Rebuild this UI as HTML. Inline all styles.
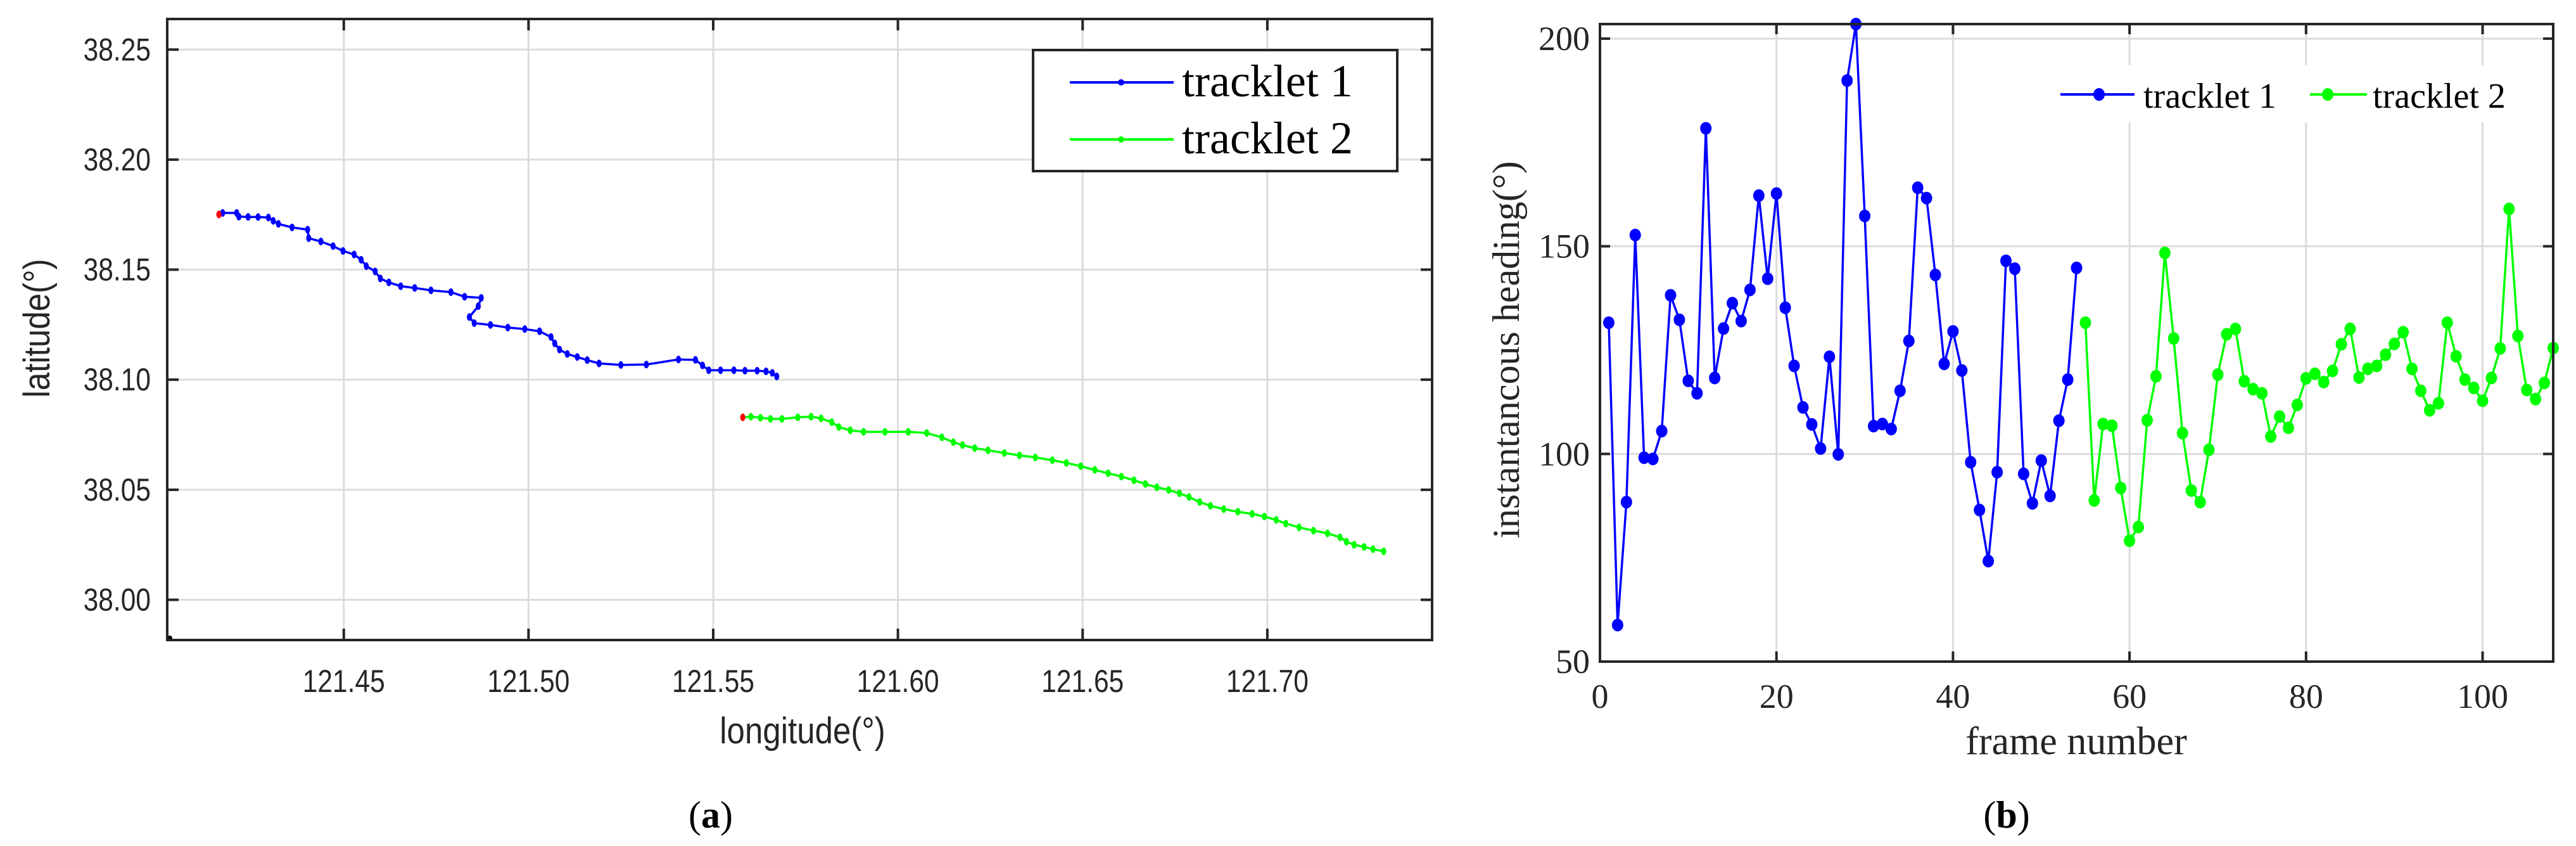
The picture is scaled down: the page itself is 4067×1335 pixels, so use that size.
<!DOCTYPE html>
<html><head><meta charset="utf-8"><style>
html,body{margin:0;padding:0;background:#fff;}
svg{display:block;}
.sans{font-family:"Liberation Sans",sans-serif;}
.serif{font-family:"Liberation Serif",serif;}
</style></head><body>
<svg id="fig" width="4067" height="1335" viewBox="0 0 4067 1335" xmlns="http://www.w3.org/2000/svg">
<g id="left"></g>
<g id="right"></g>
<text x="1122" y="1306" text-anchor="middle" class="serif" font-size="60">(<tspan font-weight="bold">a</tspan>)</text>
<text x="3168" y="1306" text-anchor="middle" class="serif" font-size="60">(<tspan font-weight="bold">b</tspan>)</text>
</svg>
<script>
// ---- Chart (a) data ----
const lonTicks = [121.45, 121.50, 121.55, 121.60, 121.65, 121.70];
const latTicks = [38.00, 38.05, 38.10, 38.15, 38.20, 38.25];
const t1Lon = [121.4162,121.4172,121.4210,121.4216,121.4241,121.4268,121.4296,121.4309,121.4323,121.4360,121.4402,121.4405,121.4438,121.4471,121.4498,121.4528,121.4547,121.4561,121.4585,121.4599,121.4622,121.4654,121.4692,121.4736,121.4790,121.4827,121.4872,121.4864,121.4840,121.4853,121.4897,121.4944,121.4990,121.5030,121.5061,121.5071,121.5084,121.5105,121.5132,121.5159,121.5191,121.5250,121.5319,121.5406,121.5452,121.5471,121.5488,121.5520,121.5556,121.5586,121.5619,121.5643,121.5660,121.5672];
const t1Lat = [38.1751,38.1758,38.1758,38.1741,38.1740,38.1739,38.1737,38.1722,38.1708,38.1692,38.1682,38.1643,38.1628,38.1607,38.1585,38.1569,38.1545,38.1516,38.1492,38.1460,38.1442,38.1425,38.1417,38.1406,38.1398,38.1377,38.1372,38.1334,38.1285,38.1257,38.1249,38.1237,38.1230,38.1220,38.1194,38.1165,38.1137,38.1117,38.1103,38.1089,38.1074,38.1067,38.1069,38.1092,38.1090,38.1065,38.1043,38.1043,38.1043,38.1041,38.1041,38.1038,38.1031,38.1015];
const t2Lon = [121.5580,121.5602,121.5628,121.5655,121.5686,121.5729,121.5765,121.5792,121.5821,121.5840,121.5871,121.5907,121.5965,121.6028,121.6078,121.6119,121.6150,121.6175,121.6208,121.6244,121.6288,121.6329,121.6372,121.6418,121.6456,121.6495,121.6533,121.6569,121.6605,121.6639,121.6670,121.6701,121.6733,121.6762,121.6788,121.6817,121.6846,121.6882,121.6920,121.6959,121.6992,121.7024,121.7050,121.7086,121.7125,121.7163,121.7197,121.7214,121.7235,121.7262,121.7286,121.7315];
const t2Lat = [38.0829,38.0832,38.0827,38.0822,38.0822,38.0829,38.0832,38.0824,38.0807,38.0785,38.0770,38.0763,38.0763,38.0763,38.0758,38.0738,38.0716,38.0703,38.0689,38.0679,38.0667,38.0656,38.0647,38.0634,38.0622,38.0607,38.0590,38.0575,38.0560,38.0543,38.0526,38.0511,38.0499,38.0484,38.0467,38.0444,38.0427,38.0412,38.0400,38.0390,38.0378,38.0363,38.0346,38.0329,38.0314,38.0302,38.0284,38.0264,38.0250,38.0240,38.0230,38.0220];
// ---- Chart (b) data ----
const frameTicks = [0, 20, 40, 60, 80, 100];
const headingTicks = [50, 100, 150, 200];
const h1Frames = [1,2,3,4,5,6,7,8,9,10,11,12,13,14,15,16,17,18,19,20,21,22,23,24,25,26,27,28,29,30,31,32,33,34,35,36,37,38,39,40,41,42,43,44,45,46,47,48,49,50,51,52,53,54];
const h1Values = [131.6,58.8,88.4,152.7,99.1,98.8,105.5,138.2,132.3,117.6,114.6,178.4,118.3,130.2,136.3,132.0,139.5,162.2,142.2,162.7,135.2,121.2,111.2,107.1,101.3,123.4,99.9,189.9,203.5,157.3,106.7,107.2,106.0,115.2,127.2,164.1,161.6,143.1,121.7,129.5,120.1,98.0,86.5,74.2,95.6,146.5,144.6,95.2,88.1,98.4,89.9,108.0,117.9,144.8];
const h2Frames = [55,56,57,58,59,60,61,62,63,64,65,66,67,68,69,70,71,72,73,74,75,76,77,78,79,80,81,82,83,84,85,86,87,88,89,90,91,92,93,94,95,96,97,98,99,100,101,102,103,104,105,106,107,108];
const h2Values = [131.6,88.8,107.2,106.8,91.8,79.1,82.4,108.1,118.7,148.4,127.8,105.0,91.2,88.4,101.0,119.1,128.8,130.1,117.5,115.6,114.6,104.2,109.0,106.3,111.8,118.2,119.3,117.3,120.0,126.4,130.1,118.4,120.5,121.2,123.9,126.5,129.3,120.5,115.2,110.5,112.2,131.6,123.5,117.9,115.9,112.8,118.3,125.4,159.0,128.4,115.4,113.2,117.1,125.5];

const NS='http://www.w3.org/2000/svg';
function mk(parent, tag, attrs, text){
  const e=document.createElementNS(NS,tag);
  for(const k in attrs) e.setAttribute(k, attrs[k]);
  if(text!==undefined) e.textContent=text;
  parent.appendChild(e); return e;
}

// ---------- Chart A ----------
(function(){
  const g=document.getElementById('left');
  const L=264,R=2261,T=30,B=1010;
  const xmin=121.4022,xmax=121.7446,ymin=37.9817,ymax=38.2639;
  const sx=v=>L+(v-xmin)/(xmax-xmin)*(R-L);
  const sy=v=>B-(v-ymin)/(ymax-ymin)*(B-T);
  lonTicks.forEach(v=>{
    const l=mk(g,'line',{x1:sx(v),x2:sx(v),y1:T,y2:B,stroke:'#dcdcdc','stroke-width':3});
     
    const t1=mk(g,'line',{x1:sx(v),x2:sx(v),y1:B,y2:B-18,stroke:'#262626','stroke-width':4});
     
    const t2=mk(g,'line',{x1:sx(v),x2:sx(v),y1:T,y2:T+18,stroke:'#262626','stroke-width':4});
     
    const tx=mk(g,'text',{x:sx(v),y:1092,'text-anchor':'middle','font-size':50,fill:'#262626',class:'sans',transform:`translate(${sx(v)} 0) scale(0.85 1) translate(${-sx(v)} 0)`},v.toFixed(2));
     
  });
  latTicks.forEach(v=>{
    const l=mk(g,'line',{x1:L,x2:R,y1:sy(v),y2:sy(v),stroke:'#dcdcdc','stroke-width':3});
     
    const t1=mk(g,'line',{x1:L,x2:L+18,y1:sy(v),y2:sy(v),stroke:'#262626','stroke-width':4});
     
    const t2=mk(g,'line',{x1:R,x2:R-18,y1:sy(v),y2:sy(v),stroke:'#262626','stroke-width':4});
     
    const tx=mk(g,'text',{x:238,y:sy(v)+17,'text-anchor':'end','font-size':50,fill:'#262626',class:'sans',transform:`translate(238 0) scale(0.85 1) translate(-238 0)`},v.toFixed(2));
     
  });
  function series(lons,lats,color,name){
    const pts=lons.map((v,i)=>sx(v)+','+sy(lats[i])).join(' ');
    const pl=mk(g,'polyline',{points:pts,fill:'none',stroke:color,'stroke-width':3.5});
     
    lons.forEach((v,i)=>{
      const c=mk(g,'ellipse',{cx:sx(v),cy:sy(lats[i]),rx:4,ry:6,fill:color});
       
    });
    const s=mk(g,'ellipse',{cx:sx(lons[0]),cy:sy(lats[0]),rx:4,ry:6,fill:'#ff0000'});
     
  }
  series(t1Lon,t1Lat,'#0000ff','tracklet-1');
  series(t2Lon,t2Lat,'#00ff00','tracklet-2');
  const corner=mk(g,'circle',{cx:L+4,cy:B-3,r:4,fill:'#000'});
   
  const fr=mk(g,'rect',{x:L,y:T,width:R-L,height:B-T,fill:'none',stroke:'#262626','stroke-width':4});
   
  // legend
  const lg=mk(g,'g',{});
   
  mk(lg,'rect',{x:1631,y:79,width:575,height:191,fill:'#fff',stroke:'#262626','stroke-width':4});
  [['#0000ff','tracklet 1',130],['#00ff00','tracklet 2',220]].forEach(([c,t,y],i)=>{
    const ln=mk(lg,'line',{x1:1689,x2:1853,y1:y,y2:y,stroke:c,'stroke-width':4});
     
    mk(lg,'circle',{cx:1770,cy:y,r:5,fill:c});
    const tx=mk(lg,'text',{x:1866,y:y+22,'font-size':72,class:'serif',fill:'#000'},t);
     
  });
  const xt=mk(g,'text',{x:1267,y:1173,'text-anchor':'middle','font-size':58,class:'sans',fill:'#262626',transform:'translate(1267 0) scale(0.88 1) translate(-1267 0)'},'longitude(°)');
   
  const yt=mk(g,'text',{x:0,y:0,'text-anchor':'middle','font-size':58,class:'sans',fill:'#262626',transform:'translate(78 518) rotate(-90) scale(0.88 1)'},'latitude(°)');
   
})();

// ---------- Chart B ----------
(function(){
  const g=document.getElementById('right');
  const L=2526,R=4031,T=38,B=1044;
  const xmin=0,xmax=108,ymin=50,ymax=203.5;
  const sx=v=>L+(v-xmin)/(xmax-xmin)*(R-L);
  const sy=v=>B-(v-ymin)/(ymax-ymin)*(B-T);
  frameTicks.forEach(v=>{
    if(v>0){const l=mk(g,'line',{x1:sx(v),x2:sx(v),y1:T,y2:B,stroke:'#dcdcdc','stroke-width':3});
     }
    const t1=mk(g,'line',{x1:sx(v),x2:sx(v),y1:B,y2:B-16,stroke:'#262626','stroke-width':4});
     
    const t2=mk(g,'line',{x1:sx(v),x2:sx(v),y1:T,y2:T+16,stroke:'#262626','stroke-width':4});
     
    const tx=mk(g,'text',{x:sx(v),y:1117,'text-anchor':'middle','font-size':54,class:'serif',fill:'#262626'},String(v));
     
  });
  headingTicks.forEach(v=>{
    if(v>50){const l=mk(g,'line',{x1:L,x2:R,y1:sy(v),y2:sy(v),stroke:'#dcdcdc','stroke-width':3});
     }
    const t1=mk(g,'line',{x1:L,x2:L+16,y1:sy(v),y2:sy(v),stroke:'#262626','stroke-width':4});
     
    const t2=mk(g,'line',{x1:R,x2:R-16,y1:sy(v),y2:sy(v),stroke:'#262626','stroke-width':4});
     
    const tx=mk(g,'text',{x:2510,y:sy(v)+18,'text-anchor':'end','font-size':54,class:'serif',fill:'#262626'},String(v));
     
  });
  // legend background
  const lbg=mk(g,'rect',{x:3240,y:103,width:780,height:90,fill:'#fff'});
   
  function series(fr,vals,color,name){
    const pts=fr.map((f,i)=>sx(f)+','+sy(vals[i])).join(' ');
    const pl=mk(g,'polyline',{points:pts,fill:'none',stroke:color,'stroke-width':3.5});
     
    fr.forEach((f,i)=>{
      const c=mk(g,'ellipse',{cx:sx(f),cy:sy(vals[i]),rx:9,ry:10,fill:color});
       
    });
  }
  series(h1Frames,h1Values,'#0000ff','tracklet-1');
  series(h2Frames,h2Values,'#00ff00','tracklet-2');
  const fr=mk(g,'rect',{x:L,y:T,width:R-L,height:B-T,fill:'none',stroke:'#262626','stroke-width':4});
   
  const lg=mk(g,'g',{});
   
  [['#0000ff','tracklet 1',3253,3370,3314,3384],['#00ff00','tracklet 2',3647,3737,3675,3746]].forEach(([c,t,x1,x2,mx,tx0],i)=>{
    const ln=mk(lg,'line',{x1:x1,x2:x2,y1:149,y2:149,stroke:c,'stroke-width':4});
     
    mk(lg,'ellipse',{cx:mx,cy:149,rx:9,ry:10,fill:c});
    const tx=mk(lg,'text',{x:tx0,y:170,'font-size':56,class:'serif',fill:'#000'},t);
     
  });
  const xt=mk(g,'text',{x:3278,y:1190,'text-anchor':'middle','font-size':62,class:'serif',fill:'#262626'},'frame number');
   
  const yt=mk(g,'text',{x:0,y:0,'text-anchor':'middle','font-size':60,class:'serif',fill:'#262626',transform:'translate(2398 552) rotate(-90)'},'instantancous heading(°)');
   
})();
</script>
</body></html>
